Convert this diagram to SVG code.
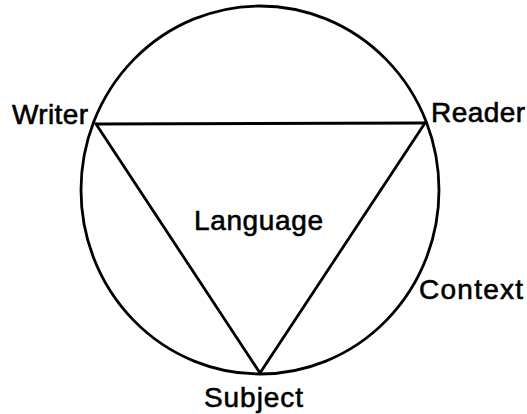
<svg xmlns="http://www.w3.org/2000/svg" width="527" height="414" viewBox="0 0 527 414">
<style>
.ln{fill:none;stroke:#000;stroke-width:2.8;stroke-linejoin:round;stroke-linecap:round}
.lb{font-family:"Liberation Sans",Arial,sans-serif;font-size:28px;fill:#000;stroke:#000;stroke-width:0.6}
</style>
<rect width="527" height="414" fill="#fff"/>
<g id="connectors">
<ellipse id="context-circle" class="ln" cx="260" cy="190" rx="179" ry="184"/>
<line class="ln" x1="96" y1="124" x2="425" y2="123"/>
<line class="ln" x1="96" y1="124" x2="260" y2="373"/>
<line class="ln" x1="425" y1="123" x2="260" y2="373"/>
</g>
<g id="writer"><text class="lb" x="12" y="124" textLength="76">Writer</text></g>
<g id="reader"><text class="lb" x="431" y="122" textLength="94">Reader</text></g>
<g id="language"><text class="lb" x="194" y="230" textLength="129">Language</text></g>
<g id="context"><text class="lb" x="419" y="299" textLength="104">Context</text></g>
<g id="subject"><text class="lb" x="204" y="407" textLength="99">Subject</text></g>
</svg>
